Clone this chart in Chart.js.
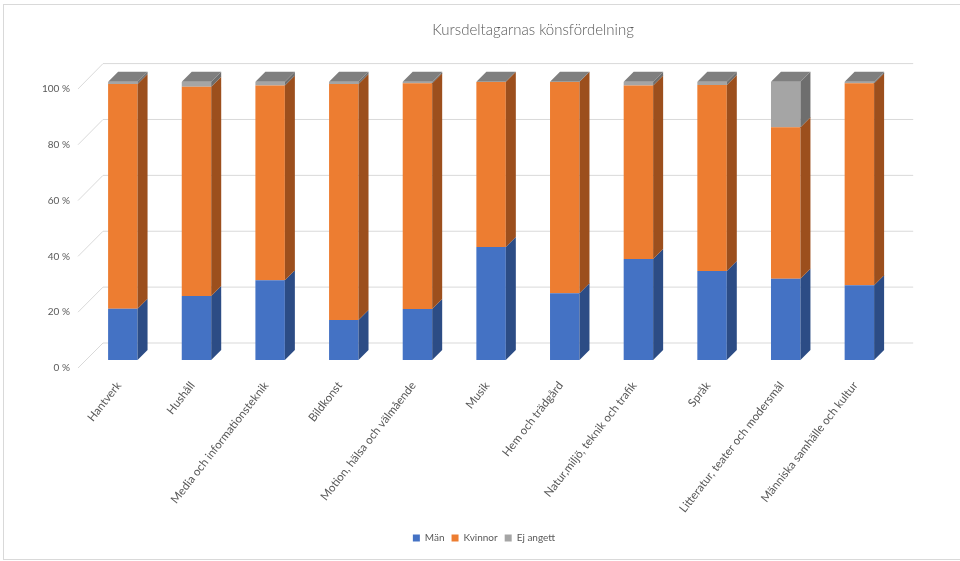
<!DOCTYPE html>
<html>
<head>
<meta charset="utf-8">
<script src="https://cdn.jsdelivr.net/npm/chart.js@4"></script>
<style>
html,body{margin:0;padding:0;background:#fff;overflow:hidden}
#wrap{position:relative;width:960px;height:561px}
canvas{display:block}
</style>
</head>
<body>
<div id="wrap"><canvas id="c" width="960" height="561"></canvas></div>
<script>
const titleText = 'Kursdeltagarnas könsfördelning';
const categories = ['Hantverk', 'Hushåll', 'Media och informationsteknik', 'Bildkonst', 'Motion, hälsa och välmående', 'Musik', 'Hem och trädgård', 'Natur,miljö, teknik och trafik', 'Språk', 'Litteratur, teater och modersmål', 'Människa samhälle och kultur'];
const seriesNames = ['Män', 'Kvinnor', 'Ej angett'];
const manValues = [18.4, 23.0, 28.7, 14.4, 18.3, 40.6, 24.0, 36.3, 32.0, 29.2, 26.9];
const kvinnorValues = [80.8, 75.2, 69.9, 84.8, 81.1, 59.4, 76.0, 62.3, 66.8, 54.4, 72.5];
const ejAngettValues = [0.8, 1.8, 1.4, 0.8, 0.6, 0.0, 0.0, 1.4, 1.2, 16.4, 0.6];
const yTickValues = [0, 20, 40, 60, 80, 100];

const frontColors = ['#4472C4', '#ED7D31', '#A5A5A5'];
const sideColors = ['#2C4C85', '#9C4F1D', '#6E6E6E'];
const topColor = '#7F7F7F';
const textColor = '#595959';
const gridColor = '#D9D9D9';
const DEPTH = 10;      // bar depth (px)
const WALL = 17;       // floor/wall depth behind front of bars
const FRONT = 8;       // floor front edge in front of bars

const threeD = {
  id: 'threeD',
  beforeDraw(chart) {
    const ctx = chart.ctx;
    ctx.save();
    ctx.strokeStyle = '#D9D9D9';
    ctx.lineWidth = 1;
    ctx.strokeRect(3.5, 4.5, 1100, 555);
    ctx.fillStyle = textColor;
    ctx.font = '300 15px Lato';
    ctx.textAlign = 'center';
    ctx.textBaseline = 'middle';
    ctx.fillText(titleText, 533, 30);
    ctx.restore();
  },
  beforeDatasetsDraw(chart) {
    const ctx = chart.ctx;
    const y = chart.scales.y;
    const yl = chart.scales.yl;
    const a = chart.chartArea;
    ctx.save();
    ctx.strokeStyle = gridColor;
    ctx.lineWidth = 1;
    yTickValues.forEach(v => {
      const yb = y.getPixelForValue(v) - WALL - v * 0.011;
      const yf = yl.getPixelForValue(v);
      ctx.beginPath();
      ctx.moveTo(a.left - FRONT, yf);
      ctx.lineTo(a.left + WALL, yb);
      ctx.lineTo(a.right + WALL, yb);
      ctx.stroke();
    });
    ctx.restore();
  },
  afterDatasetsDraw(chart) {
    const ctx = chart.ctx;
    ctx.save();
    const n = chart.data.datasets.length;
    for (let d = 0; d < n; d++) {
      const meta = chart.getDatasetMeta(d);
      meta.data.forEach(el => {
        const p = el.getProps(['x', 'y', 'base', 'width'], true);
        const left = p.x - p.width / 2, right = p.x + p.width / 2;
        const top = Math.min(p.y, p.base), bottom = Math.max(p.y, p.base);
        if (bottom - top > 0) {
          ctx.fillStyle = sideColors[d];
          ctx.beginPath();
          ctx.moveTo(right, top);
          ctx.lineTo(right + DEPTH, top - DEPTH);
          ctx.lineTo(right + DEPTH, bottom - DEPTH);
          ctx.lineTo(right, bottom);
          ctx.closePath();
          ctx.fill();
        }
        if (d === n - 1) {
          ctx.fillStyle = topColor;
          ctx.beginPath();
          ctx.moveTo(left, top);
          ctx.lineTo(left + DEPTH, top - DEPTH);
          ctx.lineTo(right + DEPTH, top - DEPTH);
          ctx.lineTo(right, top);
          ctx.closePath();
          ctx.fill();
        }
      });
    }
    ctx.restore();
  }
};

const seriesValues = [manValues, kvinnorValues, ejAngettValues];

new Chart(document.getElementById('c'), {
  type: 'bar',
  data: {
    labels: categories,
    datasets: seriesNames.map((name, i) => ({
      label: name,
      data: seriesValues[i],
      backgroundColor: frontColors[i],
      borderWidth: 0,
      stack: 's',
      categoryPercentage: 1,
      barPercentage: 0.4
    }))
  },
  options: {
    responsive: false,
    animation: false,
    devicePixelRatio: 1,
    layout: { padding: { left: 8, right: 0, top: 81.7, bottom: 8 } },
    plugins: {
      title: { display: false },
      tooltip: { enabled: false },
      legend: {
        position: 'bottom',
        labels: {
          boxWidth: 7, boxHeight: 7, padding: 7,
          color: textColor,
          font: { family: 'Lato', size: 10 }
        }
      }
    },
    scales: {
      x: {
        stacked: true,
        grid: { display: false, drawTicks: false },
        border: { display: false },
        ticks: {
          autoSkip: false, minRotation: 52, maxRotation: 52,
          color: textColor, padding: 19, labelOffset: -4,
          font: { family: 'Lato', size: 11.5 }
        },
        afterFit(axis) { axis.height = 166; }
      },
      y: {
        stacked: true,
        position: 'right',
        min: 0, max: 100,
        grid: { display: false, drawTicks: false },
        border: { display: false },
        ticks: { display: false },
        afterFit(axis) { axis.width = 63.8; }
      },
      yl: {
        position: 'left',
        min: 2.867, max: 102.6,
        grid: { display: false, drawTicks: false },
        border: { display: false },
        afterBuildTicks(axis) { axis.ticks = yTickValues.map(v => ({ value: v })); },
        ticks: {
          color: textColor, padding: 16,
          font: { family: 'Lato', size: 10 },
          callback: v => v + ' %'
        },
        afterFit(axis) { axis.width = 78; }
      }
    }
  },
  plugins: [threeD]
});
</script>
</body>
</html>
